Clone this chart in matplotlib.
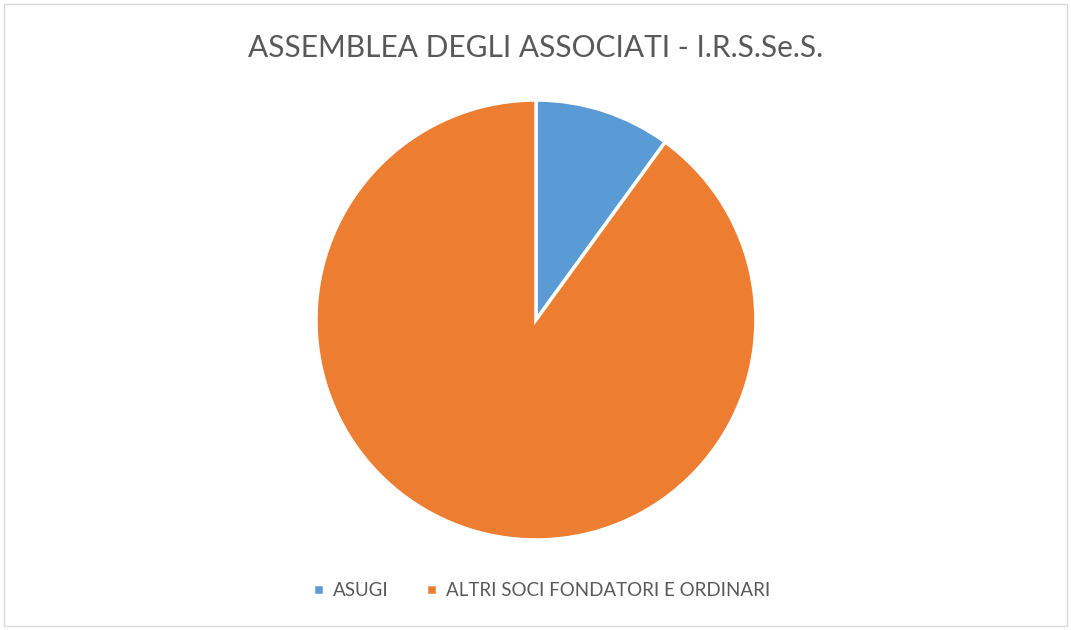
import matplotlib.pyplot as plt
from matplotlib.patches import Rectangle

categorie = ['ASUGI', 'ALTRI SOCI FONDATORI E ORDINARI']
valori = [10, 90]
colori = ['#5B9BD5', '#ED7D31']

plt.rcParams['font.family'] = ['Lato', 'DejaVu Sans']

fig = plt.figure(figsize=(10.71, 6.3), dpi=100)
ax = fig.add_axes([0.295, 0.1429, 0.4108, 0.6984])
wedges, _ = ax.pie(valori, colors=colori, startangle=90, counterclock=False,
                   radius=1, wedgeprops=dict(edgecolor='white', linewidth=2.5))
ax.set_xlim(-1, 1)
ax.set_ylim(-1, 1)
ax.set_aspect('equal')

fig.text(0.5, 0.924, 'ASSEMBLEA DEGLI ASSOCIATI - I.R.S.Se.S.', ha='center', va='center',
         fontsize=21.5, color='#595959')

fig.legend(wedges, categorie, loc='center', bbox_to_anchor=(0.506, 0.063), ncol=2,
           frameon=False, fontsize=13.5, labelcolor='#595959', handlelength=0.55,
           handleheight=0.55, handletextpad=0.5, columnspacing=2.0)

fig.patches.append(Rectangle((0.004, 0.006), 0.992, 0.988, transform=fig.transFigure,
                             fill=False, edgecolor='#D9D9D9', linewidth=1))

fig.savefig('out.png', dpi=100)
